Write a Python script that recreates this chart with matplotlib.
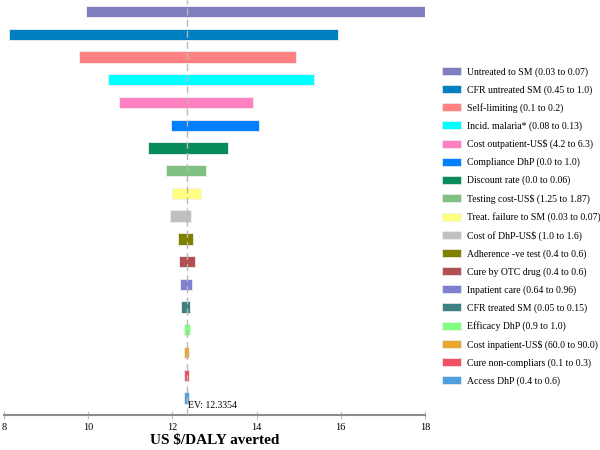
import matplotlib
matplotlib.use("Agg")
import matplotlib.pyplot as plt
from matplotlib.patches import Patch

labels = [
    "Untreated to SM (0.03 to 0.07)",
    "CFR untreated SM (0.45 to 1.0)",
    "Self-limiting (0.1 to 0.2)",
    "Incid. malaria* (0.08 to 0.13)",
    "Cost outpatient-US$ (4.2 to 6.3)",
    "Compliance DhP (0.0 to 1.0)",
    "Discount rate (0.0 to 0.06)",
    "Testing cost-US$ (1.25 to 1.87)",
    "Treat. failure to SM (0.03 to 0.07)",
    "Cost of DhP-US$ (1.0 to 1.6)",
    "Adherence -ve test (0.4 to 0.6)",
    "Cure by OTC drug (0.4 to 0.6)",
    "Inpatient care (0.64 to 0.96)",
    "CFR treated SM (0.05 to 0.15)",
    "Efficacy DhP (0.9 to 1.0)",
    "Cost inpatient-US$ (60.0 to 90.0)",
    "Cure non-compliars (0.1 to 0.3)",
    "Access DhP (0.4 to 0.6)",
]
low = [9.95, 8.11, 9.77, 10.47, 10.72, 11.97, 11.42, 11.85, 11.99, 11.94,
       12.14, 12.16, 12.18, 12.20, 12.28, 12.27, 12.27, 12.27]
high = [18.0, 15.93, 14.94, 15.36, 13.92, 14.05, 13.32, 12.80, 12.67, 12.45,
        12.50, 12.53, 12.47, 12.42, 12.41, 12.39, 12.39, 12.39]
colors = ["#7f7fc0", "#0080c0", "#ff8080", "#00ffff", "#ff80c0", "#0080ff",
          "#088c5a", "#80c080", "#ffff80", "#c0c0c0", "#808000", "#b05050",
          "#8080d0", "#408080", "#80ff80", "#e8a830", "#f05060", "#50a0e0"]
ev = 12.3354
xticks = [8, 10, 12, 14, 16, 18]

plt.rcParams['font.family'] = ['Liberation Serif', 'DejaVu Serif']

fig = plt.figure(figsize=(6, 4.5), dpi=100)
ax = fig.add_axes([4/600, 35/450, 421/600, 415/450])

for i, (lo, hi, c) in enumerate(zip(low, high, colors)):
    ax.barh(i, hi - lo, left=lo, height=0.5, color=c, edgecolor="#f0f0f0",
            linewidth=0.6, zorder=2)

ax.axvline(ev, color="#b8b8b8", linestyle=(0, (5, 3)), linewidth=1.0, zorder=3)
ax.text(ev + 0.03, 17.35, "EV: 12.3354", fontsize=7, va="center", ha="left", zorder=4)

ax.set_xlim(8, 18)
ax.set_ylim(17.75, -0.51)
ax.set_yticks([])
ax.set_xticks(xticks)
ax.set_xticklabels([str(t) for t in xticks], fontsize=7.5)
ax.tick_params(axis="x", direction="inout", length=6, width=0.8, color="#c0c0c0", pad=3)
for s in ["top", "right", "left"]:
    ax.spines[s].set_visible(False)
ax.spines["bottom"].set_color("#8c8c8c")
ax.spines["bottom"].set_linewidth(1.5)
ax.set_xlabel("US $/DALY averted", fontsize=11, fontweight="bold", labelpad=1)

handles = [Patch(facecolor=c, edgecolor="#f0f0f0", linewidth=0.5) for c in colors]
fig.legend(handles, labels, loc="upper left", bbox_to_anchor=(438/600, 1 - 63/450),
           frameon=False, fontsize=7, handlelength=2.0, handleheight=0.9,
           handletextpad=0.6, labelspacing=0.86, borderaxespad=0)

fig.savefig("out.png", dpi=100)
